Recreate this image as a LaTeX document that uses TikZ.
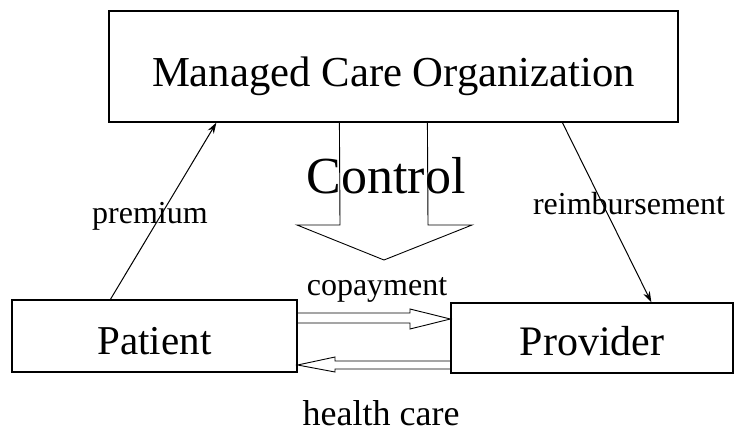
\documentclass[tikz,border=0pt]{standalone}
\usepackage{fontspec}
\setmainfont{Liberation Serif}
\usetikzlibrary{arrows.meta}
\begin{document}
\begin{tikzpicture}[x=1pt,y=-1pt,
  box/.style={draw,line width=1.2pt,rectangle,inner sep=0pt},
  lbl/.style={inner sep=0pt,anchor=base,font=\fontsize{32}{36}\selectfont},
  conn/.style={line width=1pt,-{Stealth[length=11pt,width=7pt]}},
  blockarrow/.style={line width=0.9pt,line join=miter}]
\useasboundingbox (0,0) rectangle (735,441);
\node[box,minimum width=569pt,minimum height=111pt,text height=50pt,text depth=9pt,
  font=\fontsize{42.7}{48}\selectfont] (mco) at (393.5,66.5) {Managed Care Organization};
\node[box,minimum width=285pt,minimum height=72pt,text height=40pt,text depth=4pt,
  font=\fontsize{41}{46}\selectfont] (patient) at (154.5,336) {Patient};
\node[box,minimum width=282pt,minimum height=70pt,text height=38pt,text depth=4pt,
  font=\fontsize{42}{46}\selectfont] (provider) at (592,338) {Provider};
% control arrow
\draw[blockarrow] ([xshift=231pt]mco.south west) -- (340,225) -- (297,225) -- (384,260)
  -- (472,225) -- (428,225) -- ([xshift=319pt]mco.south west);
\node[lbl,font=\fontsize{52}{56}\selectfont] (control) at (386,193) {Control};
% premium and reimbursement
\draw[conn] ([xshift=99pt]patient.north west) -- ([xshift=108pt]mco.south west);
\draw[conn] ([xshift=454pt]mco.south west) -- ([xshift=201pt]provider.north west);
\node[lbl] (premium) at (150,223) {premium};
\node[lbl] (reimb) at (629,214) {reimbursement};
% copayment arrow
\draw[blockarrow] (patient.east |- 0,313) -- (410,313) -- (410,309) -- (provider.west |- 0,319)
  -- (410,329) -- (410,323) -- (patient.east |- 0,323);
\node[lbl] (copay) at (377,295) {copayment};
% health care arrow
\draw[blockarrow] (provider.west |- 0,361) -- (335,361) -- (335,357) -- (patient.east |- 0,365)
  -- (335,372) -- (335,369) -- (provider.west |- 0,369);
\node[lbl,font=\fontsize{36}{40}\selectfont] (health) at (381,425) {health care};
\end{tikzpicture}
\end{document}
